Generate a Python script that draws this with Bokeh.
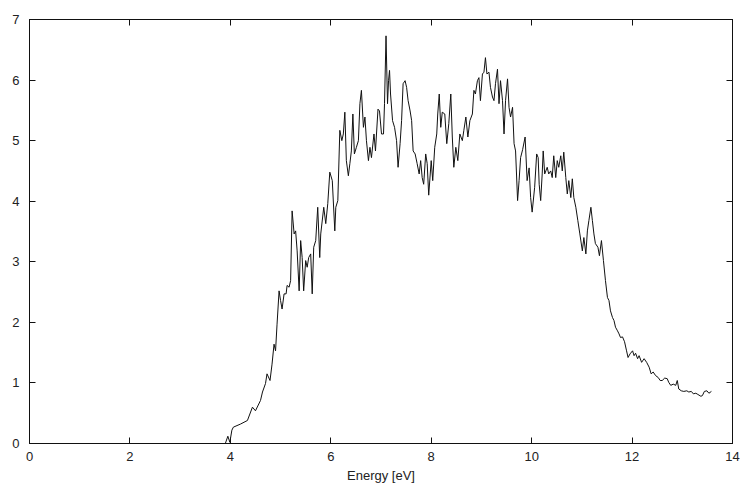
from bokeh.plotting import figure
from bokeh.models import LinearAxis, Range1d, FixedTicker, CustomJSTickFormatter
from bokeh.embed import file_html
from bokeh.resources import INLINE

energy = [3.90, 3.95, 3.99, 4.03, 4.06, 4.20, 4.34, 4.44, 4.50, 4.60, 4.64, 4.70, 4.73, 4.79, 4.83,
          4.87, 4.90, 4.93, 4.97, 5.00, 5.03, 5.07, 5.11, 5.13, 5.17, 5.20, 5.23, 5.27, 5.30, 5.33,
          5.37, 5.40, 5.43, 5.46, 5.50, 5.53, 5.56, 5.60, 5.63, 5.66, 5.70, 5.74, 5.78, 5.80, 5.86,
          5.90, 5.94, 5.98, 6.03, 6.08, 6.10, 6.14, 6.18, 6.22, 6.25, 6.28, 6.31, 6.35, 6.38, 6.41,
          6.44, 6.47, 6.51, 6.55, 6.58, 6.61, 6.65, 6.68, 6.71, 6.75, 6.78, 6.81, 6.86, 6.89, 6.94,
          6.97, 7.01, 7.05, 7.07, 7.10, 7.13, 7.15, 7.17, 7.19, 7.23, 7.27, 7.31, 7.34, 7.38, 7.41,
          7.44, 7.48, 7.51, 7.54, 7.58, 7.61, 7.64, 7.68, 7.72, 7.76, 7.79, 7.82, 7.85, 7.89, 7.92,
          7.95, 8.00, 8.03, 8.07, 8.11, 8.13, 8.16, 8.19, 8.22, 8.27, 8.31, 8.35, 8.39, 8.42, 8.45,
          8.49, 8.53, 8.57, 8.62, 8.65, 8.69, 8.73, 8.77, 8.82, 8.85, 8.88, 8.92, 8.95, 8.98, 9.02,
          9.05, 9.08, 9.11, 9.15, 9.18, 9.22, 9.25, 9.28, 9.32, 9.35, 9.38, 9.42, 9.45, 9.48, 9.52,
          9.55, 9.58, 9.62, 9.65, 9.68, 9.72, 9.75, 9.78, 9.82, 9.87, 9.91, 9.95, 9.98, 10.01, 10.06,
          10.10, 10.13, 10.15, 10.18, 10.21, 10.23, 10.26, 10.31, 10.34, 10.38, 10.41, 10.44, 10.48, 10.51, 10.54,
          10.58, 10.61, 10.64, 10.68, 10.71, 10.74, 10.78, 10.81, 10.84, 10.88, 10.92, 10.96, 11.01, 11.04, 11.08,
          11.11, 11.14, 11.18, 11.21, 11.24, 11.27, 11.32, 11.35, 11.39, 11.43, 11.47, 11.51, 11.54, 11.57, 11.61,
          11.64, 11.67, 11.71, 11.74, 11.77, 11.81, 11.85, 11.89, 11.92, 11.96, 12.01, 12.04, 12.07, 12.11, 12.14,
          12.19, 12.24, 12.29, 12.34, 12.38, 12.42, 12.47, 12.52, 12.56, 12.60, 12.65, 12.70, 12.73, 12.77, 12.82,
          12.87, 12.90, 12.93, 12.98, 13.03, 13.09, 13.13, 13.18, 13.22, 13.27, 13.31, 13.37, 13.40, 13.44, 13.49,
          13.53, 13.58]

intensity = [0.00, 0.12, 0.02, 0.22, 0.27, 0.32, 0.38, 0.60, 0.54, 0.71, 0.85, 0.99, 1.15, 1.04, 1.31,
             1.64, 1.53, 1.97, 2.52, 2.36, 2.22, 2.47, 2.47, 2.61, 2.58, 2.69, 3.84, 3.46, 3.51, 3.18,
             2.52, 3.35, 3.07, 2.52, 3.02, 2.91, 3.07, 3.13, 2.47, 3.24, 3.35, 3.90, 3.07, 3.46, 3.90,
             3.63, 3.96, 4.48, 4.34, 3.51, 3.90, 4.01, 5.17, 5.00, 5.11, 5.47, 4.67, 4.42, 4.62, 4.83,
             5.44, 4.78, 4.89, 5.00, 5.61, 5.83, 5.22, 5.39, 5.00, 4.67, 4.89, 4.72, 5.11, 4.83, 5.52,
             5.49, 5.11, 5.11, 5.61, 6.73, 5.61, 5.99, 6.16, 5.77, 5.33, 5.22, 5.00, 4.56, 4.95, 5.33,
             5.94, 5.99, 5.88, 5.66, 5.49, 5.33, 4.83, 4.78, 4.62, 4.45, 4.67, 4.39, 4.28, 4.78, 4.62,
             4.10, 4.67, 4.34, 4.89, 5.11, 5.44, 5.77, 5.22, 5.47, 5.44, 4.95, 5.28, 5.77, 5.06, 4.56,
             4.89, 4.67, 5.11, 5.00, 5.17, 5.39, 5.06, 5.33, 5.44, 5.83, 5.77, 5.99, 6.04, 5.66, 6.10,
             6.13, 6.37, 6.10, 6.13, 5.88, 5.72, 5.66, 5.94, 6.18, 5.61, 5.99, 5.66, 5.11, 5.66, 6.02,
             5.55, 5.39, 5.55, 4.95, 4.83, 4.01, 4.34, 4.72, 4.85, 5.06, 4.34, 4.55, 4.06, 3.82, 4.23,
             4.78, 4.72, 4.28, 4.01, 4.45, 4.83, 4.45, 4.56, 4.45, 4.50, 4.39, 4.75, 4.39, 4.67, 4.56,
             4.75, 4.50, 4.81, 4.39, 4.12, 4.34, 4.06, 4.37, 4.06, 3.90, 3.68, 3.46, 3.18, 3.40, 3.13,
             3.51, 3.68, 3.90, 3.68, 3.46, 3.30, 3.24, 3.10, 3.35, 3.02, 2.69, 2.41, 2.36, 2.19, 2.08,
             2.03, 1.92, 1.86, 1.81, 1.75, 1.76, 1.68, 1.53, 1.42, 1.48, 1.53, 1.45, 1.49, 1.40, 1.45,
             1.34, 1.40, 1.34, 1.26, 1.15, 1.18, 1.12, 1.09, 1.04, 1.04, 1.08, 1.07, 1.01, 0.96, 0.98,
             0.96, 1.04, 0.90, 0.87, 0.86, 0.87, 0.85, 0.86, 0.82, 0.83, 0.81, 0.78, 0.79, 0.86, 0.87,
             0.83, 0.86]

x_ticks = [0, 2, 4, 6, 8, 10, 12, 14]
y_ticks = [0, 1, 2, 3, 4, 5, 6, 7]
x_label = "Energy [eV]"

FONT = "Liberation Sans"
TXT = "#222222"

p = figure(width=743, height=485, output_backend="svg", toolbar_location=None,
           x_range=Range1d(0, 14), y_range=Range1d(0, 7),
           min_border_left=29, min_border_right=11, min_border_top=19, min_border_bottom=42)
p.background_fill_color = "white"
p.border_fill_color = "white"
p.outline_line_color = "#111111"
p.outline_line_width = 1
p.xgrid.visible = False
p.ygrid.visible = False

p.line(energy, intensity, line_color="#111111", line_width=1)

for ax in p.xaxis:
    ax.ticker = FixedTicker(ticks=x_ticks)
    ax.axis_label = x_label
for ax in p.yaxis:
    ax.ticker = FixedTicker(ticks=y_ticks)

for ax in list(p.xaxis) + list(p.yaxis):
    ax.major_tick_in = 6
    ax.major_tick_out = 0
    ax.minor_tick_in = 0
    ax.minor_tick_out = 0
    ax.axis_line_color = "#111111"
    ax.major_tick_line_color = "#111111"
    ax.major_label_text_font = FONT
    ax.major_label_text_font_size = "13px"
    ax.major_label_text_color = TXT
    ax.axis_label_text_font = FONT
    ax.axis_label_text_font_size = "13px"
    ax.axis_label_text_font_style = "normal"
    ax.axis_label_text_color = TXT

p.xaxis.major_label_standoff = 8
p.xaxis.axis_label_standoff = 4
p.yaxis.major_label_standoff = 10

blank = CustomJSTickFormatter(code="return ''")
top = LinearAxis(ticker=FixedTicker(ticks=x_ticks), formatter=blank)
right = LinearAxis(ticker=FixedTicker(ticks=y_ticks), formatter=blank)
for ax in (top, right):
    ax.major_tick_in = 6
    ax.major_tick_out = 0
    ax.minor_tick_in = 0
    ax.minor_tick_out = 0
    ax.major_label_standoff = 0
    ax.major_label_text_font_size = "1px"
    ax.axis_line_color = "#111111"
    ax.major_tick_line_color = "#111111"
p.add_layout(top, "above")
p.add_layout(right, "right")

open("out.html", "w").write(file_html(p, INLINE))
